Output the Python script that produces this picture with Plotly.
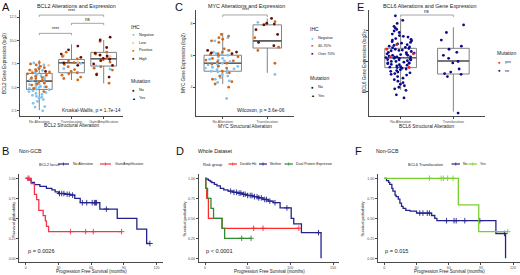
import plotly.graph_objects as go

W, H = 520, 275
FONT = "Liberation Sans, Arial, Helvetica, sans-serif"
AX = "#4a4a4a"
TXT = "#1a1a1a"

# ======================= DATA =======================
# ---- Panel A: BCL2 ----
bcl2_categories = ["No Alteration", "Translocation", "Gain/Amplification"]
bcl2_q1 = [4.78, 6.56, 7.27]
bcl2_median = [5.67, 7.62, 8.05]
bcl2_q3 = [6.49, 7.98, 8.73]
bcl2_lower = [2.57, 5.78, 5.42]
bcl2_upper = [7.9, 9.59, 10.05]
bcl2_ihc_labels = ["Negative", "Low", "Positive", "High"]

bcl2_noalt_negative = [2.5, 2.9, 2.95, 3.3, 3.5, 3.7, 3.85, 3.95, 4.05, 4.15, 4.25, 4.35, 4.45, 4.55,
                       4.65, 4.75, 4.8, 4.9, 4.95, 5.0, 5.05, 5.1, 5.2, 5.3, 5.35, 5.45, 5.55, 5.6,
                       5.7, 5.8, 5.9, 6.0, 6.1, 6.25, 6.4, 6.6, 6.8, 7.1, 7.4, 7.6]
bcl2_noalt_low = [6.15, 6.75, 7.35]
bcl2_noalt_positive = [4.55, 4.9, 5.05, 5.25, 5.45, 5.6, 5.75, 5.95, 6.05, 6.2, 6.3, 6.45, 6.55,
                       6.65, 6.75, 6.85, 6.9, 7.0, 7.1, 7.25, 7.4, 7.5, 7.65, 5.35, 6.0]
bcl2_noalt_high = [6.7]
bcl2_trans_negative = [6.6, 7.0, 7.55]
bcl2_trans_low = [7.7, 8.4]
bcl2_trans_positive = [5.8, 5.95, 6.1, 6.3, 6.45, 6.55, 6.7, 6.9, 7.2, 7.45, 7.65, 7.8, 8.05, 8.3, 8.75]
bcl2_trans_high = [9.4, 9.0, 8.55, 8.2, 7.6, 7.35]
bcl2_gain_negative = [7.3, 6.95]
bcl2_gain_low = [8.3]
bcl2_gain_positive = [9.9, 8.75, 8.45, 8.15, 7.95, 7.7, 7.2, 6.85, 6.45, 5.45, 8.55, 7.05]
bcl2_gain_high = [10.35, 10.05, 9.25, 8.65, 8.35, 8.1, 8.0, 7.85, 7.5, 6.35, 6.1, 7.35, 8.45]
bcl2_ticks = [2.5, 5.0, 7.5, 10.0, 12.5]
bcl2_tick_text = ["2.5", "5.0", "7.5", "10.0", "12.5"]

# ---- Panel C: MYC ----
myc_categories = ["No Alteration", "Translocation"]
myc_q1 = [5.0, 6.45]
myc_median = [5.5, 6.9]
myc_q3 = [6.0, 7.9]
myc_lower = [4.2, 4.9]
myc_upper = [7.4, 8.3]
myc_ihc_labels = ["Negative", "40-70%", "Over 70%"]
myc_noalt_negative = [3.3, 4.3, 4.4, 4.5, 4.6, 4.7, 4.8, 4.9, 4.95, 5.0, 5.05, 5.1, 5.15, 5.2, 5.25,
                      5.3, 5.35, 5.4, 5.45, 5.5, 5.6, 5.65, 5.7, 5.75, 5.8, 5.9, 6.0, 6.05, 6.1,
                      6.2, 6.3, 6.9, 7.1]
myc_noalt_mid = [4.0, 4.2, 4.35, 4.5, 4.7, 4.9, 5.0, 5.2, 5.3, 5.45, 5.5, 5.6, 5.65, 5.7, 5.8, 5.9,
                 6.0, 6.05, 6.1, 6.2, 6.3, 6.4, 6.8, 6.9, 7.0, 7.1, 7.2, 7.3]
myc_noalt_high = [6.1, 6.15, 6.2, 6.3]
myc_trans_negative = [4.8, 8.05]
myc_trans_mid = [8.1, 7.9, 7.1, 6.5, 6.3, 5.5]
myc_trans_high = [8.3, 8.0, 7.95, 7.9, 7.6, 7.3, 6.8, 6.6]
myc_ticks = [4, 6, 8]

# ---- Panel E: BCL6 ----
bcl6_categories = ["No Alteration", "Translocation"]
bcl6_q1 = [5.59, 5.17]
bcl6_median = [6.24, 6.03]
bcl6_q3 = [6.86, 6.86]
bcl6_lower = [4.12, 2.7]
bcl6_upper = [8.84, 8.24]
bcl6_mutation_labels = ["yes", "no"]
bcl6_noalt_no = [9.0, 8.7, 8.5, 8.3, 8.2, 8.1, 8.0, 7.9, 7.8, 7.7, 7.6, 7.5, 7.45, 7.4, 7.3, 7.25, 7.2,
                 7.15, 7.1, 7.05, 7.0, 6.95, 6.9, 6.85, 6.8, 6.75, 6.7, 6.65, 6.6, 6.55, 6.5, 6.45,
                 6.4, 6.4, 6.35, 6.3, 6.3, 6.25, 6.2, 6.2, 6.15, 6.1, 6.1, 6.05, 6.0, 6.0, 5.95, 5.9,
                 5.9, 5.85, 5.8, 5.75, 5.7, 5.65, 5.6, 5.55, 5.5, 5.45, 5.4, 5.35, 5.3, 5.2, 5.1, 5.0,
                 4.9, 4.8, 4.7, 4.6, 4.5, 4.4, 4.3, 4.2, 4.1, 3.8, 3.6, 7.35, 6.72, 6.48, 6.12, 5.88,
                 5.62, 5.25, 7.65, 6.92, 6.58, 6.28, 5.78, 5.15]
bcl6_noalt_yes = [7.1, 6.8, 6.5, 6.3, 5.6]
bcl6_trans_no = [8.4, 7.9, 7.4, 7.0, 6.8, 6.6, 6.4, 6.2, 6.0, 5.9, 5.5, 5.3, 5.2, 5.15, 5.0, 2.6]
bcl6_ticks = [4, 6, 8]

# ---- Panel B: Non-GCB, BCL2 locus ----
b_noalt_time = [0, 2, 5, 8, 13, 19, 24, 27, 30, 36, 41, 45, 50, 68, 84, 102, 111, 114]
b_noalt_surv = [1.0, 0.98, 0.95, 0.92, 0.90, 0.875, 0.855, 0.83, 0.81, 0.80, 0.79, 0.75, 0.695,
                0.615, 0.50, 0.365, 0.185, 0.185]
b_noalt_censor = [31, 33, 35, 38, 40, 43, 52, 56, 61, 63, 64, 65, 74, 114]
b_gain_time = [0, 5, 8, 10, 12, 16, 18, 19, 21, 88]
b_gain_surv = [1.0, 0.933, 0.80, 0.733, 0.60, 0.533, 0.467, 0.40, 0.333, 0.333]
b_gain_censor = [2, 3, 41, 55, 62, 88]
b_ticks = [0, 30, 60, 90, 120]

# ---- Panel D: Whole dataset, risk group ----
d_dh_time = [0, 1, 2, 4, 20, 110]
d_dh_surv = [1.0, 0.875, 0.75, 0.5, 0.375, 0.375]
d_dh_censor = [57, 68, 110]
d_neither_time = [0, 2, 4, 6, 8, 11, 14, 18, 22, 27, 33, 38, 44, 50, 56, 62, 68, 74, 80, 88, 101,
                  104, 113, 136]
d_neither_surv = [1.0, 0.99, 0.975, 0.96, 0.945, 0.925, 0.905, 0.875, 0.855, 0.84, 0.825, 0.815,
                  0.80, 0.785, 0.77, 0.755, 0.735, 0.715, 0.695, 0.63, 0.50, 0.43, 0.32, 0.0]
d_neither_censor = [30, 34, 37, 40, 42, 45, 47, 50, 53, 55, 58, 61, 63, 66, 70, 72, 76, 82, 96, 133]
d_dpe_time = [0, 1, 3, 7, 10, 20, 23, 54]
d_dpe_surv = [1.0, 0.875, 0.75, 0.625, 0.5, 0.375, 0.25, 0.25]
d_dpe_censor = [43, 54]
d_ticks = [0, 50, 100, 150]

# ---- Panel F: Non-GCB, BCL6 translocation ----
f_no_time = [0, 2, 4, 5, 7, 8, 10, 11, 13, 14.5, 16, 17.5, 20, 24, 30, 44, 47, 49, 104, 113]
f_no_surv = [1.0, 0.97, 0.95, 0.925, 0.875, 0.84, 0.79, 0.77, 0.74, 0.69, 0.65, 0.625, 0.60, 0.59,
             0.565, 0.535, 0.50, 0.47, 0.31, 0.0]
f_no_censor = [33, 36, 40, 42, 58, 65, 67, 75, 89, 112]
f_yes_time = [0, 69, 88, 115]
f_yes_surv = [1.0, 0.667, 0.333, 0.333]
f_yes_censor = [42, 53, 55, 59, 64, 115]
f_ticks = [0, 30, 60, 90, 120]
surv_ticks = [0, 0.25, 0.5, 0.75, 1.0]
surv_tick_text = ["0.00", "0.25", "0.50", "0.75", "1.00"]

# ======================= STYLE =======================
C_NEG = "#7fc3f0"
C_LOW = "#f6c59a"
C_POS = "#d0691c"
C_HIGH = "#5e1010"
C_NAVY = "#23238e"
C_RED_B = "#f2344f"
C_RED_D = "#ff2a2a"
C_GREEN_D = "#2e8b2e"
C_GREEN_F = "#7ad02b"
C_E_NO = "#0b0b8a"
C_E_YES = "#ff1a1a"


def px(x):
    return x / W


def py(y):
    return 1 - y / H


fig = go.Figure()


def stat_box(cat, q1, med, q3, lo, hi, width, xa, ya):
    fig.add_trace(go.Box(
        x=[cat], q1=[q1], median=[med], q3=[q3], lowerfence=[lo], upperfence=[hi],
        orientation="v", width=width, whiskerwidth=0, boxpoints=False,
        fillcolor="rgba(255,255,255,0)", line=dict(color="#757575", width=0.9),
        xaxis=xa, yaxis=ya, showlegend=False, hoverinfo="skip"))
    # thicker median bar (ggplot draws the median with a heavier stroke)
    fig.add_trace(go.Box(
        x=[cat], q1=[med], median=[med], q3=[med], lowerfence=[med], upperfence=[med],
        orientation="v", width=width, whiskerwidth=0, boxpoints=False,
        fillcolor="rgba(255,255,255,0)", line=dict(color="#5f5f5f", width=1.6),
        xaxis=xa, yaxis=ya, showlegend=False, hoverinfo="skip"))


def points(cat, vals, color, width, xa, ya):
    if not vals:
        return
    fig.add_trace(go.Box(
        x=[cat] * len(vals), y=vals, boxpoints="all", jitter=1.0, pointpos=0, width=width,
        fillcolor="rgba(0,0,0,0)", line=dict(width=0, color="rgba(0,0,0,0)"),
        marker=dict(color=color, size=2.8, line=dict(width=0)),
        xaxis=xa, yaxis=ya, showlegend=False, hoverinfo="y"))


# ---- A ----
for i, cat in enumerate(bcl2_categories):
    stat_box(cat, bcl2_q1[i], bcl2_median[i], bcl2_q3[i], bcl2_lower[i], bcl2_upper[i], 0.8, "x", "y")
for cat, groups in [
    ("No Alteration", [bcl2_noalt_negative, bcl2_noalt_low, bcl2_noalt_positive, bcl2_noalt_high]),
    ("Translocation", [bcl2_trans_negative, bcl2_trans_low, bcl2_trans_positive, bcl2_trans_high]),
    ("Gain/Amplification", [bcl2_gain_negative, bcl2_gain_low, bcl2_gain_positive, bcl2_gain_high]),
]:
    for vals, col in zip(groups, [C_NEG, C_LOW, C_POS, C_HIGH]):
        points(cat, vals, col, 0.75, "x", "y")

# ---- C ----
for i, (cat, wd) in enumerate(zip(myc_categories, [0.84, 0.64])):
    stat_box(cat, myc_q1[i], myc_median[i], myc_q3[i], myc_lower[i], myc_upper[i], wd, "x2", "y2")
for cat, groups, wd in [
    ("No Alteration", [myc_noalt_negative, myc_noalt_mid, myc_noalt_high], 0.8),
    ("Translocation", [myc_trans_negative, myc_trans_mid, myc_trans_high], 0.66),
]:
    for vals, col in zip(groups, [C_NEG, C_POS, C_HIGH]):
        points(cat, vals, col, wd, "x2", "y2")

# ---- E ----
for i, cat in enumerate(bcl6_categories):
    stat_box(cat, bcl6_q1[i], bcl6_median[i], bcl6_q3[i], bcl6_lower[i], bcl6_upper[i], 0.6, "x3", "y3")
points("No Alteration", bcl6_noalt_no, C_E_NO, 0.62, "x3", "y3")
points("No Alteration", bcl6_noalt_yes, C_E_YES, 0.62, "x3", "y3")
points("Translocation", bcl6_trans_no, C_E_NO, 0.62, "x3", "y3")


# ---- KM ----
def surv_at(times, surv, t):
    val = surv[0]
    for ti, si in zip(times, surv):
        if ti <= t:
            val = si
    return val


def km(times, surv, censor, color, xa, ya):
    fig.add_trace(go.Scatter(x=times, y=surv, mode="lines", line=dict(shape="hv", color=color, width=1.3),
                             xaxis=xa, yaxis=ya, showlegend=False, hoverinfo="skip"))
    fig.add_trace(go.Scatter(x=censor, y=[surv_at(times, surv, c) for c in censor], mode="markers",
                             marker=dict(symbol="cross-thin", size=4, line=dict(width=0.9, color=color)),
                             xaxis=xa, yaxis=ya, showlegend=False, hoverinfo="skip"))


km(b_noalt_time, b_noalt_surv, b_noalt_censor, C_NAVY, "x4", "y4")
km(b_gain_time, b_gain_surv, b_gain_censor, C_RED_B, "x4", "y4")
km(d_dh_time, d_dh_surv, d_dh_censor, C_RED_D, "x5", "y5")
km(d_neither_time, d_neither_surv, d_neither_censor, C_NAVY, "x5", "y5")
km(d_dpe_time, d_dpe_surv, d_dpe_censor, C_GREEN_D, "x5", "y5")
km(f_no_time, f_no_surv, f_no_censor, C_NAVY, "x6", "y6")
km(f_yes_time, f_yes_surv, f_yes_censor, C_GREEN_F, "x6", "y6")

# ======================= AXES =======================
base = dict(showline=True, linecolor=AX, linewidth=0.7, ticks="outside", ticklen=2, tickwidth=0.6,
            tickcolor=AX, tickfont=dict(size=3.6, color="#4d4d4d", family=FONT), showgrid=False,
            zeroline=False, fixedrange=True)


def cat_x(x0, x1, cats, anchor):
    return dict(base, domain=[px(x0), px(x1)], type="category", categoryorder="array",
                categoryarray=cats, range=[-0.6, len(cats) - 0.4], anchor=anchor)


def num_y(y0, y1, rng, tv, tt, anchor):
    return dict(base, domain=[py(y1), py(y0)], range=rng, tickvals=tv, ticktext=tt, anchor=anchor)


def num_x(x0, x1, rng, tv, anchor):
    return dict(base, domain=[px(x0), px(x1)], range=rng, tickvals=tv, anchor=anchor)


layout_axes = dict(
    xaxis=cat_x(20, 123, bcl2_categories, "y"),
    yaxis=num_y(10, 116, [1.95, 13.25], bcl2_ticks, bcl2_tick_text, "x"),
    xaxis2=cat_x(196, 294, myc_categories, "y2"),
    yaxis2=num_y(10, 116, [2.2, 8.83], myc_ticks, [str(v) for v in myc_ticks], "x2"),
    xaxis3=cat_x(369, 485, bcl6_categories, "y3"),
    yaxis3=num_y(10, 116, [2.41, 9.38], bcl6_ticks, [str(v) for v in bcl6_ticks], "x3"),
    xaxis4=num_x(19.2, 163, [-6, 126], b_ticks, "y4"),
    yaxis4=num_y(174.3, 262.3, [-0.05, 1.05], surv_ticks, surv_tick_text, "x4"),
    xaxis5=num_x(198.6, 339.4, [-7.5, 157.5], d_ticks, "y5"),
    yaxis5=num_y(174.3, 262.3, [-0.05, 1.05], surv_ticks, surv_tick_text, "x5"),
    xaxis6=num_x(377.9, 519.5, [-6, 126], f_ticks, "y6"),
    yaxis6=num_y(174.3, 262.3, [-0.05, 1.05], surv_ticks, surv_tick_text, "x6"),
)

# ======================= TEXT / DECOR =======================
annotations = []
shapes = []


def label(x, y, s, size, color=TXT, xanchor="center", yanchor="middle", angle=0):
    annotations.append(dict(x=px(x), y=py(y), xref="paper", yref="paper", text=s, showarrow=False,
                            font=dict(size=size, color=color, family=FONT), xanchor=xanchor,
                            yanchor=yanchor, textangle=angle, borderpad=0))


def data_label(x, y, s, size, xa, ya):
    annotations.append(dict(x=x, y=y, xref=xa, yref=ya, text=s, showarrow=False, yanchor="bottom",
                            font=dict(size=size, color=TXT, family=FONT), borderpad=0))


def bracket(x0, x1, y, drop, xa, ya):
    for (a, b, c, d) in [(x0, y - drop, x0, y), (x0, y, x1, y), (x1, y, x1, y - drop)]:
        shapes.append(dict(type="line", xref=xa, yref=ya, x0=a, y0=b, x1=c, y1=d,
                           line=dict(color="#6a6a6a", width=0.6)))


# panel letters and titles
for ch, x, y in [("A", 1, 7), ("C", 174, 7), ("E", 356, 7), ("B", 1, 151), ("D", 175, 151), ("F", 354, 151)]:
    label(x, y, ch, 11, "#111", xanchor="left")
label(76, 5.5, "BCL2 Alterations and Expression", 5.4)
label(246, 5.5, "MYC Alterations and Expression", 5.4)
label(430, 5.5, "BCL6 Alterations and Gene Expression", 5.4)

# axis titles (top)
label(5, 64, "BCL2 Gene Expression (log2)", 4.6, angle=-90)
label(183, 63, "MYC Gene Expression (log2)", 4.6, angle=-90)
label(364, 63, "BCL6 Gene Expression (log2)", 4.6, angle=-90)
label(71.5, 125.5, "BCL2 Structural Alteration", 4.8)
label(245, 126, "MYC Structural Alteration", 4.8)
label(427, 126, "BCL6 Structural Alteration", 4.8)

# stats text
label(91.5, 110, "Kruskal-Wallis, p = 1.7e-14", 4.9)
label(261, 110, "Wilcoxon, p = 3.6e-06", 4.9)

# significance brackets
bracket(0, 1, 10.76, 0.2, "x", "y")
data_label(0.5, 10.8, "****", 4.6, "x", "y")
bracket(1, 2, 11.83, 0.2, "x", "y")
data_label(1.5, 11.87, "ns", 4.6, "x", "y")
bracket(0, 2, 12.71, 0.2, "x", "y")
data_label(1.0, 12.75, "****", 4.6, "x", "y")
bracket(0, 1, 8.52, 0.13, "x2", "y2")
data_label(0.5, 8.55, "****", 4.6, "x2", "y2")
bracket(0, 1, 9.05, 0.13, "x3", "y3")
data_label(0.5, 9.08, "ns", 4.6, "x3", "y3")

# legends (top)
label(130, 27, "IHC", 5, xanchor="left")
for i, (lab, col) in enumerate(zip(bcl2_ihc_labels, [C_NEG, C_LOW, C_POS, C_HIGH])):
    label(133.5, 34.5 + 8 * i, "●", 4.6, col)
    label(137.5, 34.5 + 8 * i, lab, 3.8, xanchor="left")
label(130, 81, "Mutation", 5, xanchor="left")
label(133.5, 90, "●", 4.6, "#111")
label(137.5, 90, "No", 3.8, xanchor="left")
label(133.5, 98, "▲", 4.0, "#111")
label(137.5, 98, "Yes", 3.8, xanchor="left")

label(309, 29, "IHC", 5, xanchor="left")
for i, (lab, col) in enumerate(zip(myc_ihc_labels, [C_NEG, C_POS, C_HIGH])):
    label(312.5, 38 + 8 * i, "●", 4.6, col)
    label(316.5, 38 + 8 * i, lab, 3.8, xanchor="left")
label(309, 78, "Mutation", 5, xanchor="left")
label(312.5, 87.5, "●", 4.6, "#111")
label(316.5, 87.5, "No", 3.8, xanchor="left")
label(312.5, 95.5, "▲", 4.0, "#111")
label(316.5, 95.5, "Yes", 3.8, xanchor="left")

label(496, 53, "Mutation", 5, xanchor="left")
for i, (lab, col) in enumerate(zip(bcl6_mutation_labels, [C_E_YES, C_E_NO])):
    label(499.5, 62 + 8.5 * i, "●", 4.6, col)
    label(503.5, 62 + 8.5 * i, lab, 3.8, xanchor="left")

# KM subtitles, p-values, axis titles
label(18, 150.5, "Non-GCB", 5.2, xanchor="left")
label(197, 150.5, "Whole Dataset", 5.2, xanchor="left")
label(375, 150.5, "Non-GCB", 5.2, xanchor="left")
label(26.5, 251, "p = 0.0026", 5.6, xanchor="left")
label(205, 251, "p < 0.0001", 5.6, xanchor="left")
label(384, 251, "p = 0.015", 5.6, xanchor="left")
for xc in [91, 269, 449]:
    label(xc, 271, "Progression Free Survival (months)", 4.5)
for xt in [13, 183.5, 361.5]:
    label(xt, 219, "Survival probability", 4.2, angle=-90)


def km_key(x0, x1, y, color):
    shapes.append(dict(type="line", xref="paper", yref="paper", x0=px(x0), x1=px(x1), y0=py(y), y1=py(y),
                       line=dict(color=color, width=1.2)))
    xc = (x0 + x1) / 2
    shapes.append(dict(type="line", xref="paper", yref="paper", x0=px(xc), x1=px(xc), y0=py(y - 1.5),
                       y1=py(y + 1.5), line=dict(color=color, width=0.8)))


label(38, 164, "BCL2 locus", 4.0, xanchor="left")
km_key(58, 69, 164, C_NAVY)
label(71.5, 164, "No Alteration", 3.5, xanchor="left")
km_key(100, 111, 164, C_RED_B)
label(113.5, 164, "Gain/Amplification", 3.5, xanchor="left")

label(201.5, 164, "Risk group", 4.0, xanchor="left")
km_key(228.5, 237, 164, C_RED_D)
label(238.5, 164, "Double Hit", 3.5, xanchor="left")
km_key(259, 267, 164, C_NAVY)
label(268.5, 164, "Neither", 3.5, xanchor="left")
km_key(284.5, 293, 164, C_GREEN_D)
label(294.5, 164, "Dual Protein Expressor", 3.5, xanchor="left")

label(406.5, 164, "BCL6 Translocation", 4.0, xanchor="left")
km_key(451.5, 460, 164, C_NAVY)
label(461.5, 164, "No", 3.5, xanchor="left")
km_key(468.5, 477, 164, C_GREEN_F)
label(478.5, 164, "Yes", 3.5, xanchor="left")

fig.update_layout(
    width=W, height=H, autosize=False, margin=dict(l=0, r=0, t=0, b=0),
    paper_bgcolor="white", plot_bgcolor="white", boxmode="overlay", showlegend=False,
    font=dict(family=FONT, color=TXT), annotations=annotations, shapes=shapes, **layout_axes)

fig.write_html(
    "out.html",
    config={"displayModeBar": False},
    post_script="document.body.style.margin='0';document.body.style.padding='0';"
                "document.body.style.overflow='hidden';",
)
